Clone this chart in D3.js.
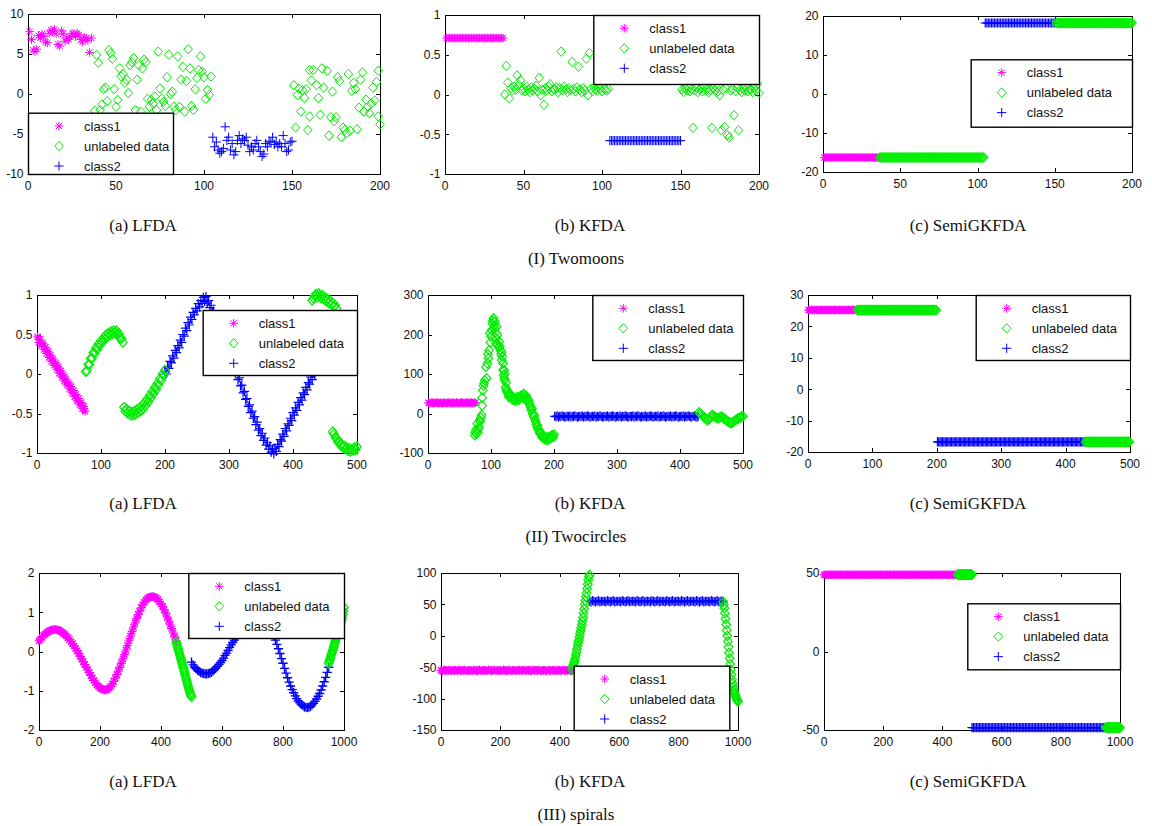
<!DOCTYPE html>
<html><head><meta charset="utf-8">
<script src="https://cdn.jsdelivr.net/npm/d3@7"></script>
<style>body{margin:0;background:#fff}svg{display:block}</style>
</head><body>
<svg id="fig" width="1152" height="826"></svg>
<script>
// ---------- labels ----------
const legendLabels = ["class1", "unlabeled data", "class2"];
const subCaptions = ["(a) LFDA", "(b) KFDA", "(c) SemiGKFDA"];
const rowCaptions = ["(I) Twomoons", "(II) Twocircles", "(III) spirals"];

// ---------- Twomoons, LFDA ([index, value]) ----------
const moonsLfdaC1 = [7.8, 6.8, 5.5, 5.3, 5.6, 7.3, 7.0, 7.5, 7.2, 6.5, 6.4, 7.6, 8.0, 7.8, 8.1, 7.5, 6.2, 6.0, 7.9, 7.5, 6.6, 7.0, 6.8, 7.1, 7.6, 7.5, 7.2, 7.6, 7.4, 6.8, 6.5, 7.1, 7.0, 6.7, 5.2, 7.0];
const moonsLfdaU = [[39,4.9],[40,3.9],[38,-2.1],[42,-1.3],[43,0.6],[44,0.8],[41,-2.0],[45,-0.9],[46,5.5],[47,5.1],[48,4.4],[49,0.6],[50,-1.6],[51,-0.75],[52,3.2],[53,2.2],[54,2.5],[55,1.4],[56,1.8],[57,0.1],[58,3.6],[59,4.0],[60,4.5],[61,-2.0],[62,1.8],[63,3.6],[64,-2.2],[65,3.2],[66,4.3],[67,4.0],[68,-0.6],[69,-1.6],[70,-0.75],[71,-1.2],[72,-0.3],[73,-2.0],[74,5.3],[75,0.7],[76,-0.6],[77,-1.0],[78,-1.5],[79,2.1],[80,4.9],[81,0.0],[82,0.3],[83,-1.6],[84,-2.0],[85,4.7],[86,-1.6],[87,1.8],[88,3.4],[89,-2.2],[90,1.6],[91,5.6],[92,3.2],[93,-1.5],[94,-2.0],[95,0.6],[96,2.0],[97,3.0],[98,4.7],[99,2.8],[100,2.1],[101,-0.6],[102,0.5],[103,-0.1],[104,2.2],
  [151,1.1],[152,-4.2],[153,-0.1],[154,0.7],[155,-2.2],[156,0.5],[157,-0.5],[158,0.6],[159,-4.5],[160,3.0],[161,1.7],[160,-2.8],[162,3.0],[164,1.1],[165,-0.5],[166,-2.6],[167,3.2],[168,0.8],[170,2.9],[171,-5.2],[172,-2.9],[173,0.3],[174,-3.4],[175,-2.9],[176,2.1],[177,1.6],[178,-5.4],[179,-4.2],[180,-4.5],[181,-4.9],[182,2.5],[183,-4.6],[184,0.4],[185,1.4],[186,0.6],[187,-4.4],[188,-1.7],[189,1.8],[190,2.7],[191,-2.2],[192,-0.7],[193,-1.6],[194,-2.4],[195,-1.2],[196,0.8],[197,-0.8],[198,1.5],[199,-2.8],[199,2.9],[200,-3.8]];
const moonsLfdaC2 = [[105,-5.4],[106,-6.6],[107,-6.0],[108,-7.0],[109,-7.4],[110,-7.2],[111,-6.8],[112,-4.1],[113,-5.8],[114,-5.4],[115,-7.0],[116,-6.2],[117,-7.6],[118,-7.2],[119,-5.8],[120,-5.2],[121,-6.2],[122,-5.6],[123,-5.8],[124,-5.4],[125,-6.4],[126,-7.2],[127,-6.6],[128,-7.0],[129,-6.2],[130,-5.8],[131,-6.6],[132,-7.2],[133,-7.8],[134,-7.5],[135,-6.2],[136,-6.6],[137,-5.9],[138,-6.0],[139,-5.4],[140,-6.3],[141,-6.0],[142,-6.6],[143,-6.2],[144,-6.6],[145,-5.2],[146,-6.2],[147,-7.2],[148,-7.0],[149,-6.0],[150,-5.9]];

// ---------- Twomoons, KFDA (one value per index) ----------
const moonsKfdaC1 = [0.71,0.71,0.71,0.71,0.71,0.71,0.71,0.71,0.71,0.71,0.71,0.71,0.71,0.71,0.71,0.71,0.71,0.71,0.71,0.71,0.71,0.71,0.71,0.71,0.71,0.71,0.71,0.71,0.71,0.71,0.71,0.71,0.71,0.71,0.71,0.71,0.71];
const moonsKfdaUa = [0.00,0.36,0.15,-0.05,0.08,0.05,0.10,0.06,0.24,0.12,0.18,0.05,0.08,0.04,0.10,0.06,0.03,0.09,0.05,0.07,0.11,0.04,0.21,-0.01,0.06,-0.13,0.08,0.05,0.10,0.13,0.04,0.07,0.06,0.09,0.03,0.08,0.54,0.05,0.10,0.06,0.03,0.08,0.05,0.41,0.07,0.04,0.09,0.35,0.06,0.03,0.08,0.05,0.45,-0.01,0.52,0.07,0.04,0.09,0.06,0.05,0.10,0.07,0.04,0.08,0.06,0.05,0.07];
const moonsKfdaC2 = [-0.58,-0.58,-0.58,-0.58,-0.58,-0.58,-0.58,-0.58,-0.58,-0.58,-0.58,-0.58,-0.58,-0.58,-0.58,-0.58,-0.58,-0.58,-0.58,-0.58,-0.58,-0.58,-0.58,-0.58,-0.58,-0.58,-0.58,-0.58,-0.58,-0.58,-0.58,-0.58,-0.58,-0.58,-0.58,-0.58,-0.58,-0.58,-0.58,-0.58,-0.58,-0.58,-0.58,-0.58,-0.58,-0.58];
const moonsKfdaUb = [0.06,0.03,0.08,0.05,0.10,0.04,0.07,-0.42,0.05,0.09,0.03,0.06,0.08,0.04,0.10,0.05,0.07,0.03,0.06,-0.42,0.08,0.05,0.09,0.04,-0.01,-0.45,0.06,-0.41,0.08,-0.51,-0.54,0.05,0.07,-0.26,0.04,0.09,-0.45,0.06,0.03,0.08,0.05,0.10,0.04,0.07,0.06,0.03,0.09,0.05,0.13,0.02];

// ---------- Twomoons, SemiGKFDA ----------
const moonsSemiC1 = [-16.3,-16.3,-16.3,-16.3,-16.3,-16.3,-16.3,-16.3,-16.3,-16.3,-16.3,-16.3,-16.3,-16.3,-16.3,-16.3,-16.3,-16.3,-16.3,-16.3,-16.3,-16.3,-16.3,-16.3,-16.3,-16.3,-16.3,-16.3,-16.3,-16.3,-16.3,-16.3,-16.3,-16.3,-16.3,-16.3];
const moonsSemiUa = [-16.3,-16.3,-16.3,-16.3,-16.3,-16.3,-16.3,-16.3,-16.3,-16.3,-16.3,-16.3,-16.3,-16.3,-16.3,-16.3,-16.3,-16.3,-16.3,-16.3,-16.3,-16.3,-16.3,-16.3,-16.3,-16.3,-16.3,-16.3,-16.3,-16.3,-16.3,-16.3,-16.3,-16.3,-16.3,-16.3,-16.3,-16.3,-16.3,-16.3,-16.3,-16.3,-16.3,-16.3,-16.3,-16.3,-16.3,-16.3,-16.3,-16.3,-16.3,-16.3,-16.3,-16.3,-16.3,-16.3,-16.3,-16.3,-16.3,-16.3,-16.3,-16.3,-16.3,-16.3,-16.3,-16.3,-16.3,-16.3];
const moonsSemiC2 = [18.2,18.2,18.2,18.2,18.2,18.2,18.2,18.2,18.2,18.2,18.2,18.2,18.2,18.2,18.2,18.2,18.2,18.2,18.2,18.2,18.2,18.2,18.2,18.2,18.2,18.2,18.2,18.2,18.2,18.2,18.2,18.2,18.2,18.2,18.2,18.2,18.2,18.2,18.2,18.2,18.2,18.2,18.2,18.2,18.2,18.2];
const moonsSemiUb = [18.2,18.2,18.2,18.2,18.2,18.2,18.2,18.2,18.2,18.2,18.2,18.2,18.2,18.2,18.2,18.2,18.2,18.2,18.2,18.2,18.2,18.2,18.2,18.2,18.2,18.2,18.2,18.2,18.2,18.2,18.2,18.2,18.2,18.2,18.2,18.2,18.2,18.2,18.2,18.2,18.2,18.2,18.2,18.2,18.2,18.2,18.2,18.2,18.2,18.2];

// ---------- Twocircles, LFDA (every 2nd index) ----------
const circLfdaC1 = [0.47,0.40,0.44,0.36,0.39,0.31,0.34,0.26,0.29,0.21,0.24,0.16,0.19,0.11,0.14,0.06,0.09,0.01,0.04,-0.04,-0.01,-0.09,-0.06,-0.14,-0.11,-0.19,-0.16,-0.24,-0.21,-0.29,-0.26,-0.34,-0.31,-0.39,-0.36,-0.44,-0.41,-0.47];
const circLfdaUa = [0.03,0.04,0.12,0.12,0.20,0.20,0.27,0.26,0.33,0.31,0.38,0.36,0.42,0.40,0.46,0.44,0.50,0.47,0.52,0.49,0.54,0.51,0.55,0.52,0.55,0.50,0.51,0.45,0.45,0.40];
const circLfdaUb = [-0.42,-0.47,-0.44,-0.50,-0.47,-0.52,-0.48,-0.52,-0.47,-0.51,-0.45,-0.49,-0.43,-0.47,-0.40,-0.44,-0.36,-0.40,-0.32,-0.35,-0.27,-0.30,-0.22,-0.25,-0.17,-0.20,-0.12,-0.14,-0.06,-0.08,0.00,-0.02,0.05];
const circLfdaC2 = [0.03,0.00,0.09,0.07,0.16,0.14,0.23,0.20,0.30,0.27,0.36,0.33,0.43,0.40,0.50,0.48,0.58,0.55,0.65,0.62,0.72,0.69,0.78,0.75,0.83,0.80,0.89,0.85,0.93,0.89,0.97,0.92,
  0.98,0.90,0.93,0.84,0.87,0.78,0.80,0.70,0.73,0.63,0.65,0.55,0.57,0.47,0.49,0.39,0.40,0.30,0.32,0.21,0.22,0.12,0.13,0.02,0.04,-0.07,-0.05,-0.15,-0.14,-0.24,-0.22,-0.32,-0.31,-0.41,-0.39,-0.49,-0.47,-0.56,-0.54,-0.64,-0.61,-0.71,-0.69,-0.78,-0.75,-0.84,-0.81,-0.90,-0.87,-0.95,-0.91,-0.99,-0.95,-1.01,
  -0.94,-0.98,-0.89,-0.92,-0.83,-0.85,-0.76,-0.79,-0.69,-0.72,-0.63,-0.65,-0.56,-0.59,-0.49,-0.52,-0.43,-0.46,-0.36,-0.39,-0.30,-0.33,-0.24,-0.26,-0.17,-0.20,-0.11,-0.13,-0.04,-0.07,0.02,-0.01,0.09,0.06,0.15];
const circLfdaUc = [0.93,0.96,0.99,1.01,0.97,1.02,0.99,0.96,1.00,0.95,0.97,0.92,0.95,0.90,0.93,0.88,0.90,0.85,0.87,0.83];
const circLfdaUd = [-0.73,-0.76,-0.80,-0.82,-0.86,-0.85,-0.90,-0.89,-0.93,-0.91,-0.95,-0.93,-0.97,-0.94,-0.98,-0.95,-0.97,-0.93,-0.96,-0.92];

// ---------- Twocircles, KFDA ----------
const circKfdaC1 = [27,26,28,27,26,27,28,27,26,27, 27,26,28,27,26,27,28,27,26,27, 27,26,28,27,26,27,28,27,26,27, 28,26,27,27,28,26,27,28];
const circKfdaU = [[74,-55],[75,-48],[76,-41],[77,-52],[78,-26],[79,-48],[80,-40],[81,-34],[82,-17],[83,-20],[84,-10],[85,-4],[86,40],[86,20],[87,59],[88,70],[89,76],[90,84],[92,118],[93,89],[94,127],[95,150],[96,140],[97,160],[98,203],[99,180],[100,195],[101,211],[102,228],[103,235],[104,241],[105,222],[106,232],[106,215],[107,205],[108,177],[108,190],[109,220],[110,199],[111,175],[112,168],[113,182],[114,169],[115,160],[116,150],[117,156],[117,135],[118,144],[119,127],[119,110],[120,97],[121,110],[121,90],[122,84],[122,100],[123,67],[124,78],[124,62],[125,55],[126,58],[127,50],[128,42],[129,46],[130,50],[131,42],[132,44],[133,40],[134,36],[136,34],[137,40],[138,38],[139,32],[140,35],[142,42],[143,38],[144,35],[146,40],[147,45],[149,44],[150,40],[151,46],[152,50],[153,40],[154,36],[155,42],[156,45],[157,38],[158,30],[159,35],[160,33],[161,26],[162,21],[163,15],[164,8],[165,12],[166,0],[167,-2],[168,-9],[169,-5],[170,-16],[171,-21],[172,-28],[173,-34],[174,-30],[175,-40],[176,-42],[177,-47],[178,-52],[179,-48],[180,-55],[181,-60],[182,-58],[183,-57],[184,-61],[185,-65],[186,-63],[187,-60],[188,-64],[189,-67],[190,-62],[191,-60],[192,-66],[193,-63],[194,-58],[195,-62],[196,-59],[197,-55],[198,-56],[199,-60],[200,-53]];
const circKfdaC2 = [-7,-8,-6,-9,-7,-8,-6,-7,-9,-8, -7,-8,-6,-9,-7,-8,-6,-7,-9,-8, -7,-8,-6,-9,-7,-8,-6,-7,-9,-8, -7,-8,-6,-9,-7,-8,-6,-7,-9,-8, -7,-8,-6,-9,-7,-8,-6,-7,-9,-8, -7,-8,-6,-9,-7,-8,-6,-7,-9,-8,
  -7,-8,-6,-9,-7,-8,-6,-7,-9,-8, -7,-8,-6,-9,-7,-8,-6,-7,-9,-8, -7,-8,-6,-9,-7,-8,-6,-7,-9,-8, -7,-8,-6,-9,-7,-8,-6,-7,-9,-8, -7,-8,-6,-9,-7,-8,-6,-7,-9,-8, -7,-6,-8,-9,-7];
const circKfdaUb = [3,0,-3,-6,-9,-12,-15,-17,-14,-10,-5,-4,-7,-9,-11,-12,-11,-9,-8,-10,-13,-15,-18,-20,-22,-24,-24,-22,-19,-17,-15,-13,-11,-10,-8,-7];

// ---------- Twocircles, SemiGKFDA ----------
const circSemiC1 = [25.2,25.2,25.2,25.2,25.2,25.2,25.2,25.2,25.2,25.2, 25.2,25.2,25.2,25.2,25.2,25.2,25.2,25.2,25.2,25.2, 25.2,25.2,25.2,25.2,25.2,25.2,25.2,25.2,25.2,25.2, 25.2,25.2,25.2,25.2,25.2,25.2,25.2,25.2];
const circSemiUa = [25.2,25.2,25.2,25.2,25.2,25.2,25.2,25.2,25.2,25.2, 25.2,25.2,25.2,25.2,25.2,25.2,25.2,25.2,25.2,25.2, 25.2,25.2,25.2,25.2,25.2,25.2,25.2,25.2,25.2,25.2, 25.2,25.2,25.2,25.2,25.2,25.2,25.2,25.2,25.2,25.2, 25.2,25.2,25.2,25.2,25.2,25.2,25.2,25.2,25.2,25.2, 25.2,25.2,25.2,25.2,25.2,25.2,25.2,25.2,25.2,25.2, 25.2,25.2];
const circSemiC2 = [-16.8,-16.8,-16.8,-16.8,-16.8,-16.8,-16.8,-16.8,-16.8,-16.8, -16.8,-16.8,-16.8,-16.8,-16.8,-16.8,-16.8,-16.8,-16.8,-16.8, -16.8,-16.8,-16.8,-16.8,-16.8,-16.8,-16.8,-16.8,-16.8,-16.8, -16.8,-16.8,-16.8,-16.8,-16.8,-16.8,-16.8,-16.8,-16.8,-16.8, -16.8,-16.8,-16.8,-16.8,-16.8,-16.8,-16.8,-16.8,-16.8,-16.8, -16.8,-16.8,-16.8,-16.8,-16.8,-16.8,-16.8,-16.8,-16.8,-16.8,
  -16.8,-16.8,-16.8,-16.8,-16.8,-16.8,-16.8,-16.8,-16.8,-16.8, -16.8,-16.8,-16.8,-16.8,-16.8,-16.8,-16.8,-16.8,-16.8,-16.8, -16.8,-16.8,-16.8,-16.8,-16.8,-16.8,-16.8,-16.8,-16.8,-16.8, -16.8,-16.8,-16.8,-16.8,-16.8,-16.8,-16.8,-16.8,-16.8,-16.8, -16.8,-16.8,-16.8,-16.8,-16.8,-16.8,-16.8,-16.8,-16.8,-16.8, -16.8,-16.8,-16.8,-16.8,-16.8];
const circSemiUb = [-16.8,-16.8,-16.8,-16.8,-16.8,-16.8,-16.8,-16.8,-16.8,-16.8, -16.8,-16.8,-16.8,-16.8,-16.8,-16.8,-16.8,-16.8,-16.8,-16.8, -16.8,-16.8,-16.8,-16.8,-16.8,-16.8,-16.8,-16.8,-16.8,-16.8, -16.8,-16.8,-16.8,-16.8,-16.8];

// ---------- Spirals, LFDA (every 5th / 2nd index) ----------
const spirLfdaC1 = [0.27,0.31,0.36,0.41,0.44,0.48,0.50,0.53,0.54,0.56, 0.56,0.56,0.55,0.54,0.52,0.49,0.46,0.43,0.39,0.35, 0.30,0.25,0.20,0.14,0.08,0.02,-0.05,-0.12,-0.19,-0.26,
  -0.33,-0.40,-0.47,-0.54,-0.61,-0.68,-0.74,-0.80,-0.85,-0.89, -0.93,-0.95,-0.97,-0.98,-0.98,-0.96,-0.93,-0.89,-0.83,-0.76, -0.68,-0.59,-0.50,-0.40,-0.30,-0.19,-0.08,0.04,0.15,0.27,
  0.39,0.51,0.62,0.73,0.84,0.94,1.03,1.11,1.19,1.25, 1.31,1.35,1.38,1.39,1.40,1.40,1.38,1.36,1.32,1.27, 1.21,1.15,1.07,0.98,0.88,0.78,0.68,0.58,0.47,0.37, 0.27];
const spirLfdaUa = [0.24,0.19,0.13,0.07,0.02,-0.04,-0.10,-0.15,-0.21,-0.27,-0.32,-0.38,-0.44,-0.50,-0.56,-0.62,-0.68,-0.74,-0.80,-0.86,-0.92,-0.97,-1.02,-1.07,-1.11,-1.15];
const spirLfdaC2 = [-0.27,-0.34,-0.40,-0.44,-0.48,-0.51,-0.53,-0.55,-0.56,-0.57, -0.57,-0.56,-0.55,-0.53,-0.50,-0.46,-0.42,-0.38,-0.33,-0.28, -0.23,-0.17,-0.10,-0.04,0.03,0.10,0.17,0.23,0.29,0.34,
  0.38,0.44,0.50,0.55,0.60,0.64,0.68,0.71,0.74,0.76, 0.77,0.78,0.78,0.77,0.76,0.74,0.72,0.69,0.65,0.61, 0.57,0.53,0.49,0.45,0.40,0.29,0.18,0.07,-0.05,-0.18,
  -0.30,-0.43,-0.55,-0.67,-0.78,-0.88,-0.97,-1.05,-1.13,-1.20, -1.26,-1.31,-1.35,-1.38,-1.41,-1.42,-1.43,-1.42,-1.40,-1.36, -1.32,-1.27,-1.21,-1.14,-1.07,-0.98,-0.88,-0.77,-0.66,-0.53, -0.40];
const spirLfdaUb = [-0.30,-0.25,-0.20,-0.15,-0.09,-0.04,0.01,0.05,0.11,0.16,0.22,0.27,0.33,0.38,0.43,0.48,0.53,0.59,0.64,0.69,0.74,0.80,0.86,0.94,1.03,1.12];

// ---------- Spirals, KFDA ----------
const spirKfdaC1 = [-55,-56,-54,-55,-56,-55,-54,-56,-55,-55, -55,-56,-54,-55,-56,-55,-54,-56,-55,-55, -55,-56,-54,-55,-56,-55,-54,-56,-55,-55, -55,-56,-54,-55,-56,-55,-54,-56,-55,-55, -55,-56,-54,-55,-56,-55,-54,-56,-55,-55,
  -55,-56,-54,-55,-56,-55,-54,-56,-55,-55, -55,-56,-54,-55,-56,-55,-54,-56,-55,-55, -55,-56,-54,-55,-56,-55,-54,-56,-55,-55, -55,-56,-54,-55,-56,-55,-54,-56,-55,-55, -55];
const spirKfdaUa = [-54,-50,-46,-43,-40,-36,-31,-26,-21,-16,-11,-7,-2,3,8,13,18,23,29,36,43,50,56,62,68,75,82,89,94,97];
const spirKfdaC2 = [55,54,56,55,54,55,56,54,55,55, 55,54,56,55,54,55,56,54,55,55, 55,54,56,55,54,55,56,54,55,55, 55,54,56,55,54,55,56,54,55,55, 55,54,56,55,54,55,56,54,55,55,
  55,54,56,55,54,55,56,54,55,55, 55,54,56,55,54,55,56,54,55,55, 55,54,56,55,54,55,56,54,55,55, 55,54,56,55,54,55,56,54,55,55, 55];
const spirKfdaUb = [54,49,44,36,27,18,9,0,-9,-18,-27,-36,-45,-54,-62,-70,-76,-81,-86,-90,-93,-96,-99,-101,-103,-105];

// ---------- Spirals, SemiGKFDA ----------
const spirSemiC1 = [48.9,48.9,48.9,48.9,48.9,48.9,48.9,48.9,48.9,48.9, 48.9,48.9,48.9,48.9,48.9,48.9,48.9,48.9,48.9,48.9, 48.9,48.9,48.9,48.9,48.9,48.9,48.9,48.9,48.9,48.9, 48.9,48.9,48.9,48.9,48.9,48.9,48.9,48.9,48.9,48.9, 48.9,48.9,48.9,48.9,48.9,48.9,48.9,48.9,48.9,48.9,
  48.9,48.9,48.9,48.9,48.9,48.9,48.9,48.9,48.9,48.9, 48.9,48.9,48.9,48.9,48.9,48.9,48.9,48.9,48.9,48.9, 48.9,48.9,48.9,48.9,48.9,48.9,48.9,48.9,48.9,48.9, 48.9,48.9,48.9,48.9,48.9,48.9,48.9,48.9,48.9,48.9, 48.9];
const spirSemiUa = [48.9,48.9,48.9,48.9,48.9,48.9,48.9,48.9,48.9,48.9, 48.9,48.9,48.9,48.9,48.9,48.9,48.9,48.9,48.9,48.9, 48.9,48.9,48.9,48.9,48.9];
const spirSemiC2 = [-48.5,-48.5,-48.5,-48.5,-48.5,-48.5,-48.5,-48.5,-48.5,-48.5, -48.5,-48.5,-48.5,-48.5,-48.5,-48.5,-48.5,-48.5,-48.5,-48.5, -48.5,-48.5,-48.5,-48.5,-48.5,-48.5,-48.5,-48.5,-48.5,-48.5, -48.5,-48.5,-48.5,-48.5,-48.5,-48.5,-48.5,-48.5,-48.5,-48.5, -48.5,-48.5,-48.5,-48.5,-48.5,-48.5,-48.5,-48.5,-48.5,-48.5,
  -48.5,-48.5,-48.5,-48.5,-48.5,-48.5,-48.5,-48.5,-48.5,-48.5, -48.5,-48.5,-48.5,-48.5,-48.5,-48.5,-48.5,-48.5,-48.5,-48.5, -48.5,-48.5,-48.5,-48.5,-48.5,-48.5,-48.5,-48.5,-48.5,-48.5, -48.5,-48.5,-48.5,-48.5,-48.5,-48.5,-48.5,-48.5,-48.5,-48.5, -48.5];
const spirSemiUb = [-48.5,-48.5,-48.5,-48.5,-48.5,-48.5,-48.5,-48.5,-48.5,-48.5, -48.5,-48.5,-48.5,-48.5,-48.5,-48.5,-48.5,-48.5,-48.5,-48.5, -48.5,-48.5,-48.5,-48.5,-48.5];

// ---------- helpers ----------
// pairs each value with its sample index (start index, fixed stride)
const seq = (x0, step, ys) => ys.map((y, i) => [x0 + i * step, y]);

const COLORS = { c1: "#ff00ff", u: "#00ee00", c2: "#0000ff" };
const markerPath = {
  c1: (r => { const a = r * 0.72; return `M${-r},0H${r}M0,${-r}V${r}M${-a},${-a}L${a},${a}M${-a},${a}L${a},${-a}`; })(4.3),
  u: "M0,-4.7L4.3,0L0,4.7L-4.3,0Z",
  c2: "M-4.6,0H4.6M0,-4.6V4.6"
};

const ticks200 = [0, 50, 100, 150, 200];
const ticks500 = [0, 100, 200, 300, 400, 500];
const ticks1000 = [0, 200, 400, 600, 800, 1000];

// sw: marker stroke width (denser bands are drawn a little heavier)
const panels = [
  { box: [28, 14, 380, 174], xd: [0, 200], yd: [-10, 10], xt: ticks200, yt: [-10, -5, 0, 5, 10], sw: 1,
    legend: [28, 112.7, 173, 174],
    series: [["u", moonsLfdaU], ["c1", seq(1, 1, moonsLfdaC1)], ["c2", moonsLfdaC2]] },
  { box: [445, 15, 759, 174], xd: [0, 200], yd: [-1, 1], xt: ticks200, yt: [-1, -0.5, 0, 0.5, 1], sw: 1,
    legend: [593.3, 15, 759, 84],
    series: [["u", seq(38, 1, moonsKfdaUa)], ["u", seq(151, 1, moonsKfdaUb)], ["c1", seq(1, 1, moonsKfdaC1)], ["c2", seq(105, 1, moonsKfdaC2)]] },
  { box: [823, 16, 1132, 172], xd: [0, 200], yd: [-20, 20], xt: ticks200, yt: [-20, -10, 0, 10, 20], sw: 1.15,
    legend: [970.7, 59.3, 1132, 126.7],
    series: [["c1", seq(1, 1, moonsSemiC1)], ["c2", seq(105, 1, moonsSemiC2)], ["u", seq(37, 1, moonsSemiUa)], ["u", seq(151, 1, moonsSemiUb)]] },
  { box: [37, 295, 357, 453], xd: [0, 500], yd: [-1, 1], xt: ticks500, yt: [-1, -0.5, 0, 0.5, 1], sw: 1.2,
    legend: [202.7, 310, 357, 375],
    series: [["c1", seq(1, 2, circLfdaC1)], ["c2", seq(200, 2, circLfdaC2)], ["u", seq(76, 2, circLfdaUa)], ["u", seq(136, 2, circLfdaUb)], ["u", seq(430, 2, circLfdaUc)], ["u", seq(462, 2, circLfdaUd)]] },
  { box: [428, 295, 743, 453], xd: [0, 500], yd: [-100, 300], xt: ticks500, yt: [-100, 0, 100, 200, 300], sw: 1.15,
    legend: [592.3, 295, 743, 360],
    series: [["c1", seq(1, 2, circKfdaC1)], ["c2", seq(201, 2, circKfdaC2)], ["u", circKfdaU], ["u", seq(430, 2, circKfdaUb)]] },
  { box: [808, 295, 1130, 452], xd: [0, 500], yd: [-20, 30], xt: ticks500, yt: [-20, -10, 0, 10, 20, 30], sw: 1.2,
    legend: [975.7, 295, 1130, 360],
    series: [["c1", seq(1, 2, circSemiC1)], ["c2", seq(201, 2, circSemiC2)], ["u", seq(77, 2, circSemiUa)], ["u", seq(431, 2, circSemiUb)]] },
  { box: [39, 573, 344, 730], xd: [0, 1000], yd: [-2, 2], xt: ticks1000, yt: [-2, -1, 0, 1, 2], sw: 1.35,
    legend: [188.3, 573, 344, 638],
    series: [["c1", seq(0, 5, spirLfdaC1)], ["c2", seq(500, 5, spirLfdaC2)], ["u", seq(450, 2, spirLfdaUa)], ["u", seq(950, 2, spirLfdaUb)]] },
  { box: [441, 573, 738, 730], xd: [0, 1000], yd: [-150, 100], xt: ticks1000, yt: [-150, -100, -50, 0, 50, 100], sw: 1.25,
    legend: [573.7, 665.7, 729.3, 730],
    series: [["c1", seq(0, 5, spirKfdaC1)], ["c2", seq(500, 5, spirKfdaC2)], ["u", seq(442, 2, spirKfdaUa)], ["u", seq(950, 2, spirKfdaUb)]] },
  { box: [824, 573, 1120, 730], xd: [0, 1000], yd: [-50, 50], xt: ticks1000, yt: [-50, 0, 50], sw: 1.25,
    legend: [967.3, 603.3, 1120, 669.3],
    series: [["c1", seq(0, 5, spirSemiC1)], ["c2", seq(500, 5, spirSemiC2)], ["u", seq(452, 2, spirSemiUa)], ["u", seq(952, 2, spirSemiUb)]] }
];

const svg = d3.select("#fig");
svg.append("rect").attr("width", 1152).attr("height", 826).attr("fill", "#fff");

const TICK = 4;
panels.forEach(p => {
  const [l, t, r, b] = p.box;
  const x = d3.scaleLinear().domain(p.xd).range([l, r]);
  const y = d3.scaleLinear().domain(p.yd).range([b, t]);
  const g = svg.append("g");

  // axes box
  g.append("rect").attr("x", l + 0.5).attr("y", t + 0.5).attr("width", r - l).attr("height", b - t)
    .attr("fill", "#fff").attr("stroke", "#000").attr("stroke-width", 1);

  // inward ticks on all four sides
  const tk = g.append("g").attr("stroke", "#000").attr("stroke-width", 1);
  p.xt.forEach(v => {
    const px = Math.round(x(v)) + 0.5;
    tk.append("line").attr("x1", px).attr("x2", px).attr("y1", b).attr("y2", b - TICK);
    tk.append("line").attr("x1", px).attr("x2", px).attr("y1", t).attr("y2", t + TICK);
  });
  p.yt.forEach(v => {
    const py = Math.round(y(v)) + 0.5;
    tk.append("line").attr("x1", l).attr("x2", l + TICK).attr("y1", py).attr("y2", py);
    tk.append("line").attr("x1", r).attr("x2", r - TICK).attr("y1", py).attr("y2", py);
  });

  const lab = g.append("g").attr("font-family", "'Liberation Sans', Arial, sans-serif")
    .attr("font-size", 12).attr("fill", "#111");
  p.xt.forEach(v => lab.append("text").attr("x", x(v)).attr("y", b + 15.5)
    .attr("text-anchor", "middle").text(String(v)));
  p.yt.forEach(v => lab.append("text").attr("x", l - 4.5).attr("y", y(v) + 4.3)
    .attr("text-anchor", "end").text(String(v)));

  // data markers (not clipped to the axes)
  p.series.forEach(([kind, pts]) => {
    g.append("g").attr("fill", "none").attr("stroke", COLORS[kind]).attr("stroke-width", p.sw)
      .selectAll("path").data(pts).join("path")
      .attr("d", markerPath[kind])
      .attr("transform", d => `translate(${x(d[0])},${y(d[1])})`);
  });

  // legend
  const [ll, lt, lr, lb] = p.legend;
  const lg = g.append("g");
  lg.append("rect").attr("x", ll + 0.5).attr("y", lt + 0.5).attr("width", lr - ll).attr("height", lb - lt)
    .attr("fill", "#fff").attr("stroke", "#000").attr("stroke-width", 1.4);
  ["c1", "u", "c2"].forEach((kind, i) => {
    const cy = lt + 13.3 + i * 20;
    lg.append("path").attr("d", markerPath[kind]).attr("fill", "none")
      .attr("stroke", COLORS[kind]).attr("stroke-width", 1)
      .attr("transform", `translate(${ll + 31},${cy})`);
    lg.append("text").attr("x", ll + 56).attr("y", cy + 4.6)
      .attr("font-family", "'Liberation Sans', Arial, sans-serif").attr("font-size", 13)
      .attr("fill", "#111").text(legendLabels[i]);
  });
});

// captions
const capFont = "'Liberation Serif', 'Times New Roman', serif";
const capX = [143, 590, 968];
const capY = [225, 503, 781];
capY.forEach((cy, row) => {
  subCaptions.forEach((s, i) => svg.append("text").attr("x", capX[i]).attr("y", cy + 5.5)
    .attr("text-anchor", "middle").attr("font-family", capFont).attr("font-size", 17)
    .attr("fill", "#111").text(s));
  svg.append("text").attr("x", 576).attr("y", cy + 33 + 5.5).attr("text-anchor", "middle")
    .attr("font-family", capFont).attr("font-size", 17).attr("fill", "#111").text(rowCaptions[row]);
});
</script>
</body></html>
